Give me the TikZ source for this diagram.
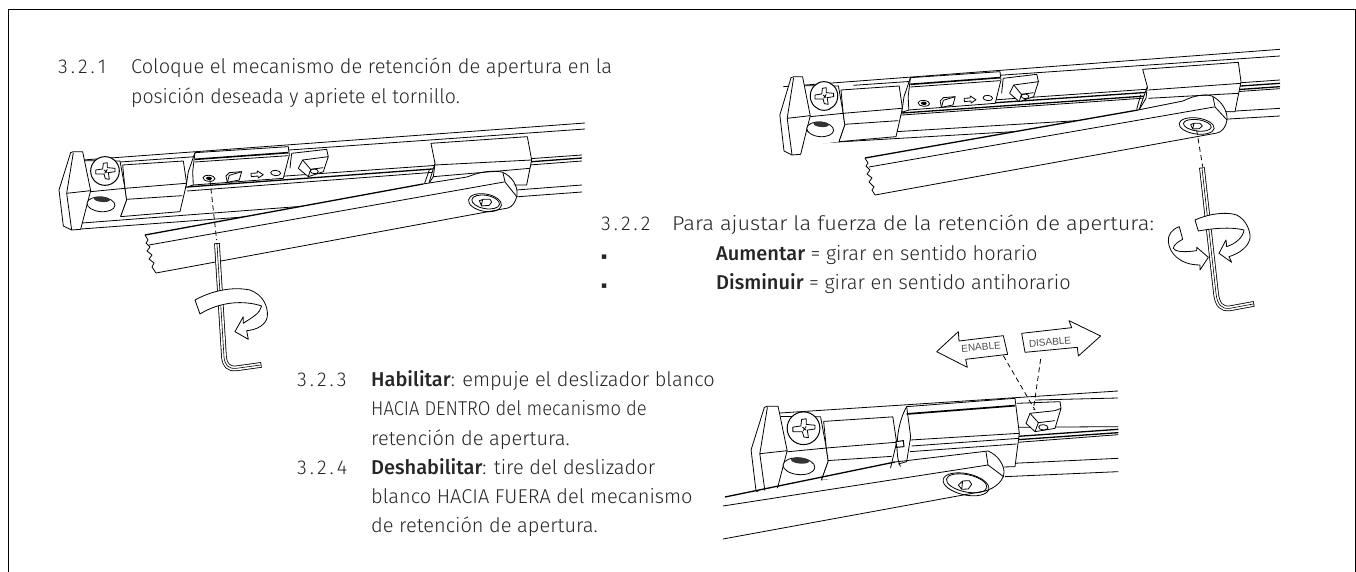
\documentclass[tikz,border=0pt]{standalone}
\usepackage{graphicx}
\usepackage{fontspec}
\setmainfont{Fira Sans Light}[BoldFont={Fira Sans Medium}]
\newfontfamily\lblfont{Liberation Sans}
\newfontfamily\symfont{DejaVu Sans}
\newcommand\numsp[3]{#1\kern3pt.\kern3pt#2\kern3pt.\kern3pt#3}
\newcommand\hs[2]{\scalebox{#1}[1]{#2}}
\tikzset{
 ln/.style={line width=.8pt,line join=round},
 lnthick/.style={line width=1.3pt},
 dsh/.style={line width=.8pt,dash pattern=on 5pt off 3.5pt},
 zs/.style n args={4}{shift={(#1,#2)},x=#3pt,y=-#4pt},
 txt/.style={anchor=base west,inner sep=0pt,text=black!85,font=\fontsize{20}{22}\selectfont},
 lbl/.style={text=black!70,inner sep=0pt,font=\lblfont\fontsize{10}{11}\selectfont}
}
\newcommand\headpart{
 \fill[white] (158,190)--(270,183)--(285,265)--(290,300)--(272,350)--(150,365)--(182,272)--cycle;
 \draw[ln] (165,182)--(270,183)--(285,265)--(290,300)--(272,350) (182,275)--(285,265);
 \draw[ln,fill=white] (87,270)--(122,158)--(130,155)--(158,155)--(182,272)--(152,388)--(125,390)--(100,378)--cycle;
 \draw[ln] (130,158)--(110,280)--(125,390) (110,280)--(182,272);
 \draw[ln,fill=white] (272,350)--(290,300)--(285,265)--(278,195)--(460,183)--(470,250)--(450,335)--cycle;
 \draw[ln] (285,265)--(468,250) (290,298)--(457,287);
 \draw[line width=1pt,fill=white] (225,213) circle [radius=43];
 \draw[ln,fill=white] (220,190)--(232,188)--(232,203)--(255,205)--(255,215)--(235,218)--(238,238)--(226,236)--(222,222)--(197,222)--(197,210)--(218,207)--cycle;
 \draw[ln] (222,210)--(232,218) (232,208)--(224,220);
 \draw[ln,fill=white,rotate around={-5:(213,313)}] (213,313) ellipse [x radius=42,y radius=22];
 \fill[black!80,rotate around={-5:(216,298)}] (216,298) ellipse [x radius=24,y radius=8];
}
\newcommand\sliderpart{
 \draw[ln,fill=white] (495,158)--(775,140)--(778,165)--(760,235)--(490,255)--(468,262)--(475,215)--cycle;
 \draw[line width=1.6pt] (495,178)--(775,158);
 \draw[ln] (495,158)--(488,215)--(490,255) (495,186)--(775,167);
 \draw[ln,fill=white,rotate around={-5:(537,235)}] (537,235) ellipse [x radius=18,y radius=9];
 \fill[black,rotate around={-5:(537,235)}] (537,235) ellipse [x radius=9,y radius=5];
 \draw[ln,fill=white] (588,228)--(598,218)--(635,215)--(628,240)--(592,247)--cycle;
 \draw[ln] (598,226)--(635,215) (598,226)--(592,247);
 \draw[ln,fill=white] (663,220)--(682,219)--(682,213)--(700,224)--(685,234)--(684,228)--(664,230)--cycle;
 \draw[ln,fill=white,rotate around={-5:(737,219)}] (737,219) ellipse [x radius=15,y radius=8];
 \draw[ln,fill=white] (785,160)--(890,148)--(895,170)--(880,215)--(835,230)--(805,205)--(818,180)--(880,172)--(895,170);
 \draw[ln] (818,180)--(842,208)--(880,203) (842,208)--(835,230);
 \draw[ln,rotate around={-5:(853,214)}] (853,214) ellipse [x radius=12,y radius=7];
 \draw[ln] (785,160)--(780,205);
}
\begin{document}
\begin{tikzpicture}[x=1pt,y=-1pt]
\useasboundingbox (0,0) rectangle (1356,572);
% frame
\draw[line width=1pt] (8,572)--(8,10)--(1355,10)--(1355,572);

% ===== Diagram A
\draw[ln] (83,160)--(585,123);
\draw[ln] (120,162)--(585,129);
\draw[ln] (82,223)--(582,185);
\draw[ln] (81,229)--(582,192);
\draw[lnthick] (187,187)--(582,158);
\draw[ln] (187,191)--(582,161);
\draw[ln] (187,183)--(582,155);
\begin{scope}[zs={30}{100}{.3333}{.3333}]
 \headpart
 \sliderpart
\end{scope}
\begin{scope}[zs={320}{110}{.3333}{.3333}]
 \draw[ln,fill=white] (333,100)--(622,80)--(635,150)--(620,225)--(325,225)--(345,160)--cycle;
 \draw[ln] (345,165)--(635,150) (340,200)--(630,175);
 \draw[ln] (345,160)--(340,200)--(322,228) (328,180)--(312,225);
\end{scope}
\fill[white] (145,235)--(423,184)--(470,175)--(500,172)--(517,188)--(517,198)--(510,208)--(398,228)--(156,273)--cycle;
\draw[lnthick] (145,235)--(423,184);
\draw[ln] (423,184)--(467,177) .. controls (480,172) and (490,170) .. (502,172) .. controls (512,176) and (518,186) .. (517,195) .. controls (516,202) and (512,207) .. (508,208)--(156,273);
\draw[ln] (149,245)--(504,182) (503,173)--(505,182)--(517,197);
\draw[ln] (145,235)--(148,240)--(146,243)--(150,247)--(147,251)--(152,255)--(149,259)--(154,263)--(152,267)--(156,273);
\begin{scope}[zs={320}{110}{.3333}{.3333}]
 \draw[ln,rotate around={-10:(495,278)}] (495,278) ellipse [x radius=50,y radius=26];
 \draw[ln,rotate around={-10:(497,276)}] (497,276) ellipse [x radius=42,y radius=20];
 \draw[ln] (478,272)--(490,268)--(510,268)--(515,276)--(508,286)--(485,288)--cycle (488,268)--(484,288) ;
\end{scope}
\begin{scope}[zs={30}{100}{.3333}{.3333}]
 \draw[dsh] (540,240)--(560,420);
 \draw[line width=5.6pt,shorten <=-.8pt,shorten >=-.8pt] (561,432)--(582,770) .. controls (584,795) and (595,808) .. (620,805)--(692,795);
 \draw[line width=4pt,white] (561,432)--(582,770) .. controls (584,795) and (595,808) .. (620,805)--(692,795);
 \draw[line width=.6pt] (561,432)--(582,770) .. controls (584,795) and (595,808) .. (620,805)--(692,795);
 \draw[ln,fill=white] (495,600) .. controls (550,570) and (610,560) .. (660,570) .. controls (700,585) and (715,620) .. (712,650) .. controls (708,675) and (680,690) .. (650,692)--(655,718)--(615,695)--(640,650)--(640,670) .. controls (670,650) and (690,640) .. (695,618) .. controls (640,600) and (570,605) .. (510,642)--cycle;
\end{scope}

% ===== Diagram B  (z4: 1040+x/3, 30+y/3)
\begin{scope}[zs={1040}{30}{.3333}{.3333}]
 \draw[ln] (-770,170)--(720,58);
 \draw[ln] (-560,166)--(720,78);
 \draw[ln] (-760,325)--(720,235);
 \draw[ln] (-760,345)--(720,258);
 \draw[lnthick] (-600,250)--(720,160);
 \draw[lnthick] (-600,262)--(720,170);
 \draw[ln] (-600,242)--(720,150);
 \draw[ln] (-600,268)--(720,176);
\end{scope}
\begin{scope}[zs={752}{25}{.32}{.3333}]
 \headpart
 \sliderpart
\end{scope}
\begin{scope}[zs={1040}{30}{.3333}{.3333}]
 \draw[ln,fill=white] (308,118)--(595,97)--(603,155)--(585,245)--(295,245)--(322,170)--cycle;
 \draw[ln] (325,180)--(603,160) (325,205)--(595,190);
 \draw[ln] (322,170)--(318,205)--(297,240) (302,195)--(290,238);
\end{scope}
\fill[white] (865,158)--(1138,110)--(1183,101)--(1210,96)--(1225,110)--(1227,120)--(1217,133)--(875,195)--cycle;
\draw[lnthick] (865,158)--(1138,110);
\draw[ln] (1138,110)--(1183,101) .. controls (1195,95) and (1205,94) .. (1212,96) .. controls (1222,101) and (1228,112) .. (1227,120) .. controls (1226,127) and (1222,132) .. (1217,133)--(875,195);
\draw[ln] (869,167)--(1214,107) (1213,97)--(1215,107)--(1227,120);
\draw[ln] (865,158)--(868,163)--(866,166)--(870,170)--(867,174)--(872,178)--(869,182)--(874,187)--(872,190)--(875,195);
\begin{scope}[zs={1040}{30}{.3333}{.3333}]
 \draw[ln,rotate around={-8:(470,288)}] (470,288) ellipse [x radius=53,y radius=24];
 \draw[ln,rotate around={-8:(472,286)}] (472,286) ellipse [x radius=42,y radius=17];
 \draw[ln] (452,284)--(462,280)--(480,280)--(487,288)--(478,296)--(458,297)--cycle (462,280)--(458,297);
 \draw[dsh] (470,300)--(488,410);
 \draw[line width=5.6pt,shorten <=-.8pt,shorten >=-.8pt] (486,415)--(528,790) .. controls (532,825) and (545,838) .. (570,835)--(640,822);
 \draw[line width=4pt,white] (486,415)--(528,790) .. controls (532,825) and (545,838) .. (570,835)--(640,822);
 \draw[line width=.6pt] (486,415)--(528,790) .. controls (532,825) and (545,838) .. (570,835)--(640,822);
 % right ribbon
 \draw[ln,fill=white] (465,570) .. controls (510,550) and (560,545) .. (590,555) .. controls (620,570) and (632,605) .. (630,625) .. controls (625,650) and (600,670) .. (567,680)--(575,697)--(537,670)--(558,630)--(560,650) .. controls (590,640) and (610,620) .. (612,600) .. controls (570,590) and (520,595) .. (475,603)--cycle;
 % left ribbon
 \draw[ln,fill=white] (418,590) .. controls (395,598) and (383,615) .. (385,635) .. controls (388,670) and (420,705) .. (480,705)--(480,720)--(505,682)--(470,652)--(470,662) .. controls (430,668) and (405,665) .. (400,655) .. controls (400,645) and (415,635) .. (428,628)--cycle;
\end{scope}

% ===== Diagram C  (z5: 740+x/3, 290+y/3)
\draw[ln] (780,413)--(1118,391);
\draw[ln] (1035,400)--(1118,398);
\begin{scope}[zs={1000}{290}{.3333}{.3333}]
 \draw[lnthick] (40,440)--(355,418);
 \draw[lnthick] (40,450)--(355,428);
 \draw[ln] (40,458)--(355,434);
 \draw[ln] (40,412)--(355,410);
 \draw[ln] (40,520)--(355,505);
 \draw[ln] (15,560)--(355,545);
\end{scope}
\begin{scope}[zs={718}{347.3}{.38}{.38}]
 \headpart
\end{scope}
\begin{scope}[zs={740}{290}{.3333}{.3333}]
 \draw[ln,fill=white] (500,350)--(825,325)--(838,430)--(825,530)--(490,540) .. controls (462,520) and (465,410) .. (500,350);
 \draw[line width=1.7pt] (500,372)--(825,347);
 \draw[ln] (500,350)--(512,440)--(500,515)--(475,522) (512,450)--(838,430) (515,468)--(838,445) (510,485)--(830,462);
 \draw[line width=1pt,fill=white] (468,455)--(490,452)--(492,470)--(470,472)--cycle;
\end{scope}
\begin{scope}[zs={1000}{290}{.3333}{.3333}]
 \draw[ln,fill=white] (50,340)--(180,335)--(183,355)--(165,415)--(105,425)--(78,400)--(90,370)--(165,362)--(183,355);
 \draw[ln] (90,370)--(115,398)--(165,392) (115,398)--(105,425);
 \draw[ln,rotate around={-5:(130,412)}] (130,412) ellipse [x radius=14,y radius=8];
\end{scope}
\fill[white] (700,502)--(988,451)--(1003,463)--(1005,477)--(988,493)--(700,550)--cycle;
\draw[lnthick] (725,497)--(895,462);
\draw[ln] (895,462)--(988,451) .. controls (998,455) and (1004,465) .. (1004,472) .. controls (1004,480) and (996,488) .. (985,491)--(723,539);
\draw[ln] (723,506)--(988,465) (986,452)--(988,465)--(1004,477);
\begin{scope}[zs={740}{290}{.3333}{.3333}]
 \draw[ln,rotate around={-12:(678,583)}] (678,583) ellipse [x radius=70,y radius=32];
 \draw[ln,rotate around={-12:(680,580)}] (680,580) ellipse [x radius=62,y radius=26];
 \draw[ln] (655,585)--(668,573)--(688,572)--(695,583)--(685,597)--(665,598)--cycle (668,573)--(665,598);
 % ENABLE arrow
 \draw[ln] (590,185)--(655,125)--(657,153)--(790,137)--(803,193)--(677,208)--(682,232)--cycle;
 \draw[dsh] (790,197)--(885,360);
\end{scope}
\node[lbl,rotate=5] (enable) at (981,347) {ENABLE};
\begin{scope}[zs={1000}{290}{.3333}{.3333}]
 \draw[ln] (65,130)--(215,113)--(207,92)--(302,138)--(235,198)--(232,172)--(75,187)--cycle;
 \draw[dsh] (122,207)--(100,360);
\end{scope}
\node[lbl,rotate=5] (disable) at (1050,342) {DISABLE};

% ===== Text
\node[txt] (n1) at (58,74) {\numsp{3}{2}{1}};
\node[txt] (t1a) at (131,74) {Coloque el mecanismo de retención de apertura en la};
\node[txt] (t1b) at (131,104) {\hs{.975}{posición deseada y apriete el tornillo.}};
\node[txt] (n2) at (601,230) {\numsp{3}{2}{2}};
\node[txt] (t2a) at (672,230) {\hs{1.09}{Para ajustar la fuerza de la retención de apertura:}};
\node[txt,font=\symfont\fontsize{9}{10}\selectfont] (b1) at (601,259) {▪};
\node[txt] (t2b) at (716,260) {\textbf{Aumentar} = girar en sentido horario};
\node[txt,font=\symfont\fontsize{9}{10}\selectfont] (b2) at (601,288) {▪};
\node[txt] (t2c) at (716,289) {\textbf{Disminuir} = girar en sentido antihorario};
\node[txt] (n3) at (297,386) {\numsp{3}{2}{3}};
\node[txt] (t3a) at (371,386) {\textbf{Habilitar}: empuje el deslizador blanco};
\node[txt] (t3b) at (371,415) {\hs{.92}{HACIA DENTRO del mecanismo de}};
\node[txt] (t3c) at (371,445) {retención de apertura.};
\node[txt] (n4) at (297,474) {\numsp{3}{2}{4}};
\node[txt] (t4a) at (371,474) {\textbf{Deshabilitar}: tire del deslizador};
\node[txt] (t4b) at (371,503) {blanco HACIA FUERA del mecanismo};
\node[txt] (t4c) at (371,532) {de retención de apertura.};
\end{tikzpicture}
\end{document}
